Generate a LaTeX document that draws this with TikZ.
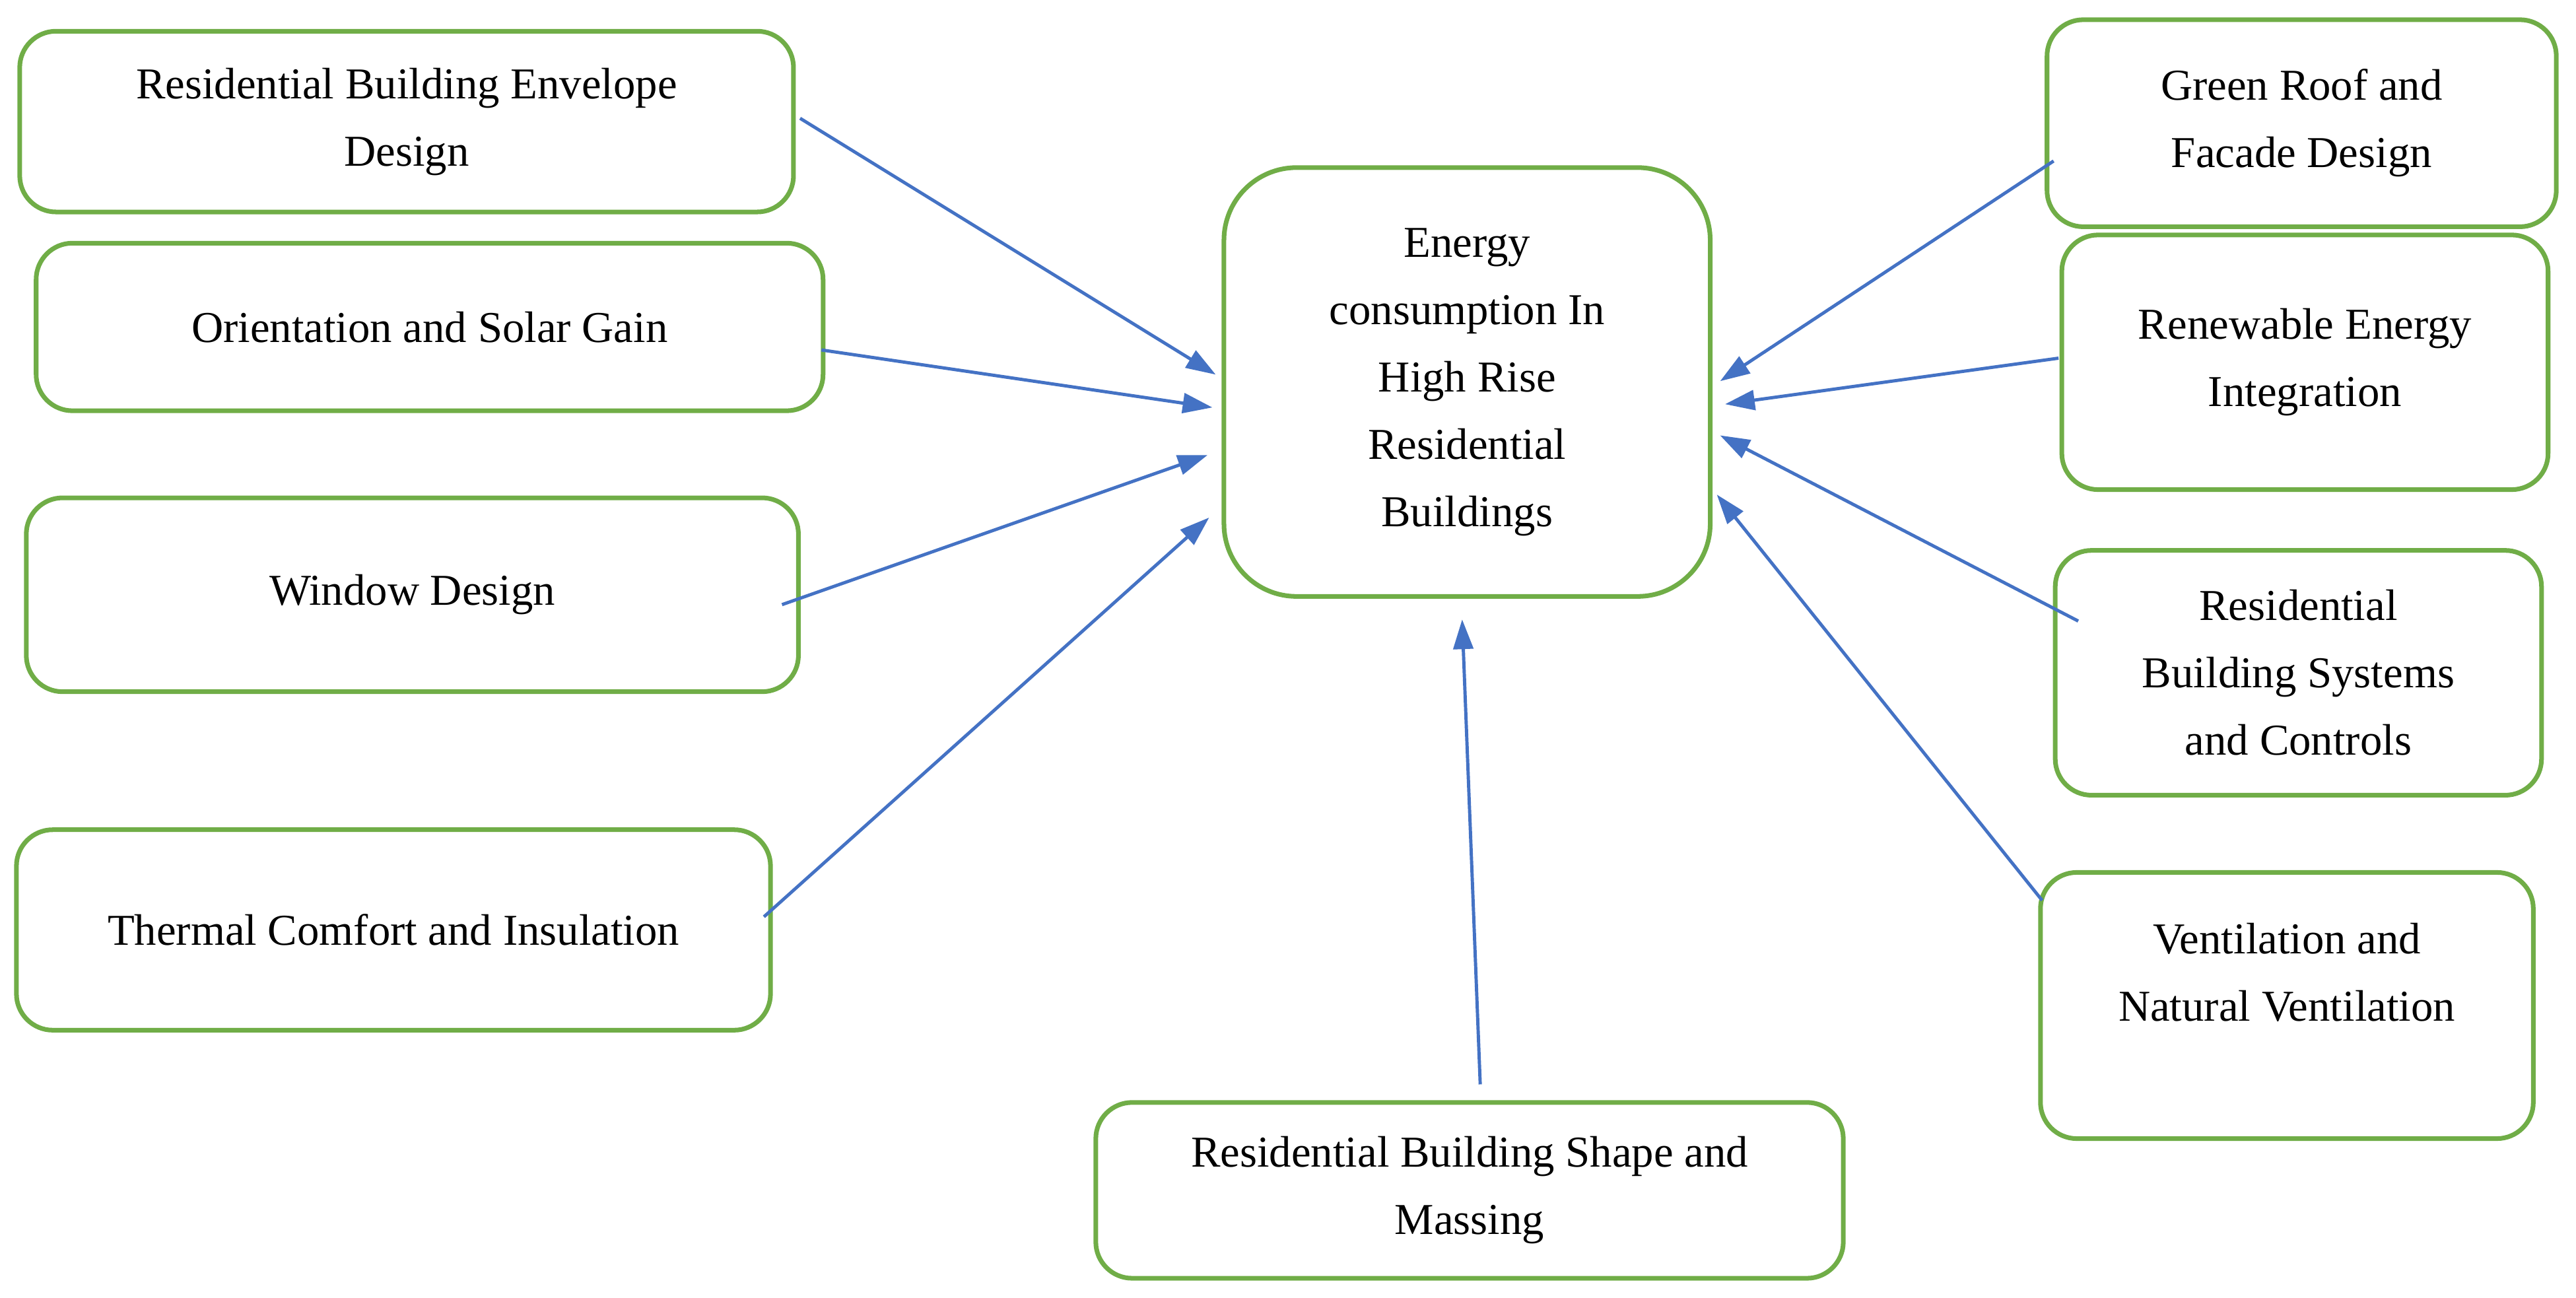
\documentclass[tikz,border=0pt]{standalone}
\usepackage{fontspec}
\setmainfont{Liberation Serif}
\usetikzlibrary{arrows.meta}
\definecolor{boxgreen}{RGB}{112,173,71}
\definecolor{arrowblue}{RGB}{68,114,196}
\tikzset{
  factor/.style={draw=boxgreen, line width=2pt, rounded corners=0.55cm, align=center,
    font=\fontsize{19}{29}\selectfont, inner sep=0pt},
  link/.style={draw=arrowblue, line width=1.4pt, -{Triangle[length=0.45cm, width=0.3cm]}}
}
\begin{document}
\begin{tikzpicture}[x=0.02489cm, y=-0.02489cm]
  \useasboundingbox (0,0) rectangle (1568,790);

  % centre
  \node[factor, rounded corners=1.1cm, minimum width=296*0.02489cm, minimum height=261*0.02489cm]
    (energy) at (893,232.5) {Energy\\consumption In\\High Rise\\Residential\\Buildings};

  % left factors
  \node[factor, minimum width=471*0.02489cm, minimum height=110*0.02489cm] (envelope) at (247.5,74) {Residential Building Envelope\\Design};
  \node[factor, minimum width=479*0.02489cm, minimum height=102*0.02489cm] (solar) at (261.5,199) {Orientation and Solar Gain};
  \node[factor, minimum width=470*0.02489cm, minimum height=118*0.02489cm] (window) at (251,362) {Window Design};
  \node[factor, minimum width=459*0.02489cm, minimum height=122*0.02489cm] (thermal) at (239.5,566) {Thermal Comfort and Insulation};

  % right factors
  \node[factor, minimum width=310*0.02489cm, minimum height=126*0.02489cm] (green) at (1401,75) {Green Roof and\\Facade Design};
  \node[factor, minimum width=296*0.02489cm, minimum height=155*0.02489cm] (renew) at (1403,220.5) {Renewable Energy\\Integration};
  \node[factor, minimum width=296*0.02489cm, minimum height=149*0.02489cm] (systems) at (1399,409.5) {Residential\\Building Systems\\and Controls};
  \node[factor, minimum width=300*0.02489cm, minimum height=162*0.02489cm] (vent) at (1392,612) {};
  \node[align=center, font=\fontsize{19}{29}\selectfont] (venttext) at (1392,592) {Ventilation and\\Natural Ventilation};

  % bottom factor
  \node[factor, minimum width=455*0.02489cm, minimum height=107*0.02489cm] (shape) at (894.5,724.5) {Residential Building Shape and\\Massing};

  % arrow ends
  \coordinate (a1) at (487,72);   \coordinate (b1) at (740,228);
  \coordinate (a2) at (500,213);  \coordinate (b2) at (738,248);
  \coordinate (a3) at (476,368);  \coordinate (b3) at (735,277);
  \coordinate (a4) at (465,558);  \coordinate (b4) at (736,315);
  \coordinate (a5) at (901,660);  \coordinate (b5) at (890,377);
  \coordinate (a6) at (1250,98);  \coordinate (b6) at (1047,232);
  \coordinate (a7) at (1253,218); \coordinate (b7) at (1050,246);
  \coordinate (a8) at (1265,378); \coordinate (b8) at (1047,265);
  \coordinate (a9) at (1243,548); \coordinate (b9) at (1045,301);

  \foreach \i in {1,...,9}
    \draw[link] (a\i) -- (b\i);
\end{tikzpicture}
\end{document}
